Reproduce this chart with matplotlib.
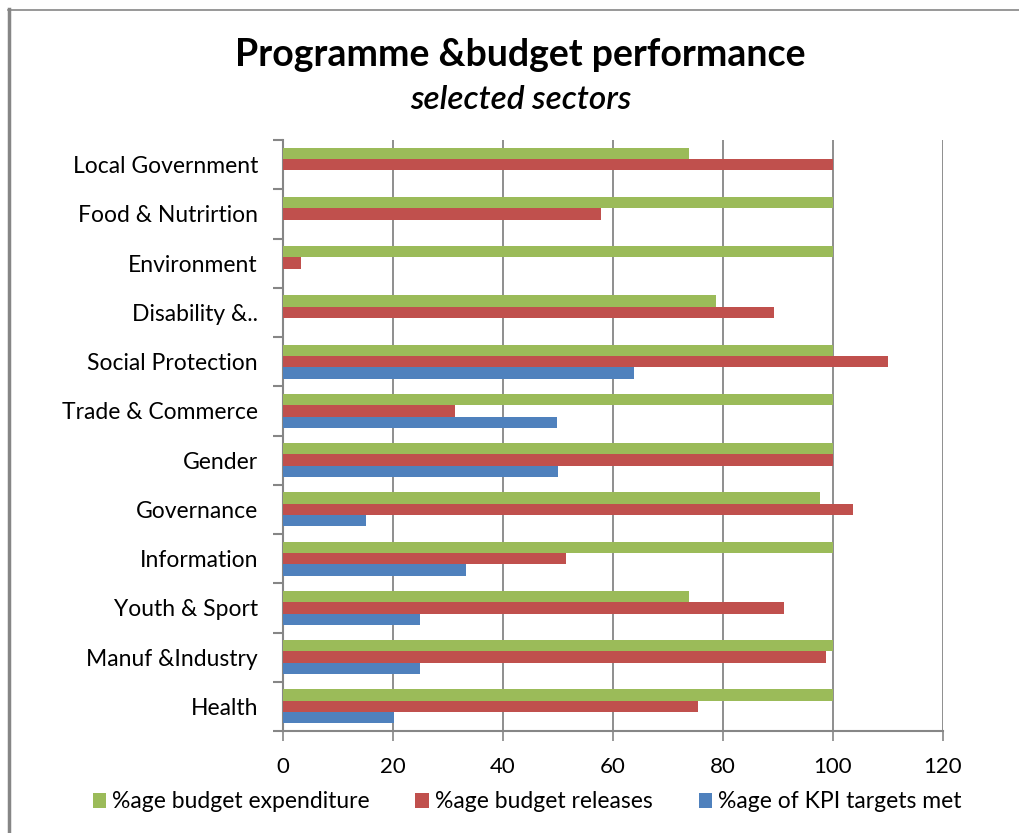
import matplotlib
matplotlib.use("Agg")
import matplotlib.pyplot as plt
import numpy as np
from matplotlib.lines import Line2D

categories = ["Health", "Manuf &Industry", "Youth & Sport", "Information", "Governance",
              "Gender", "Trade & Commerce", "Social Protection", "Disability &..",
              "Environment", "Food & Nutrirtion", "Local Government"]
expenditure = [100, 100, 73.9, 100, 97.6, 100, 100, 100, 78.7, 100, 100, 73.8]
releases = [75.5, 98.7, 91.1, 51.5, 103.7, 100, 31.2, 110, 89.2, 3.2, 57.9, 100]
kpi = [20.2, 24.9, 24.9, 33.3, 15.0, 50.0, 49.9, 63.9, np.nan, np.nan, np.nan, np.nan]
series_names = ["%age budget expenditure", "%age budget releases", "%age of KPI targets met"]
xticks = [0, 20, 40, 60, 80, 100, 120]

green = "#9BBB59"
red = "#C0504D"
blue = "#4F81BD"
gridc = "#868686"

plt.rcParams['font.family'] = ['Lato', 'DejaVu Sans']

fig = plt.figure(figsize=(10.2, 8.33), dpi=100)
ax = fig.add_axes([283/1020, 1-731/833, (943-283)/1020, (731-140)/833])

y = np.arange(len(categories))
h = 0.23
ax.barh(y + h, expenditure, height=h, color=green, label=series_names[0], zorder=3)
ax.barh(y, releases, height=h, color=red, label=series_names[1], zorder=3)
ax.barh(y - h, np.nan_to_num(kpi), height=h, color=blue, label=series_names[2], zorder=3)

ax.set_xlim(0, 120)
ax.set_ylim(-0.5, len(categories) - 0.5)
ax.set_xticks(xticks)
ax.set_xticklabels([str(t) for t in xticks], fontsize=16)
ax.set_yticks(y)
ax.set_yticklabels(categories, fontsize=16.5)
ax.tick_params(axis='y', length=0, pad=18)
ax.set_yticks(np.arange(-0.5, len(categories), 1), minor=True)
ax.tick_params(axis='y', which='minor', length=7, width=1.5, color=gridc, direction='out')
ax.tick_params(axis='x', length=7, width=1.2, color=gridc, direction='out', pad=12)
ax.xaxis.grid(True, color=gridc, linewidth=1.3, zorder=0)
ax.set_axisbelow(True)
for s in ['top', 'right']:
    ax.spines[s].set_visible(False)
for s in ['left', 'bottom']:
    ax.spines[s].set_color(gridc)
    ax.spines[s].set_linewidth(1.5)

fig.text(520/1020, 1-55/833, "Programme &budget performance", ha='center', va='center',
         fontsize=27, fontweight='bold')
fig.text(521/1020, 1-100/833, "selected sectors", ha='center', va='center',
         fontsize=24, fontstyle='italic', fontweight='semibold')

handles, labels = ax.get_legend_handles_labels()
leg = fig.legend(handles, labels, loc='center', bbox_to_anchor=(527/1020, 1-802/833), ncol=3,
                 frameon=False, fontsize=16.5, handlelength=0.6, handleheight=0.6,
                 handletextpad=0.25, columnspacing=2.0)

fig.add_artist(Line2D([9.5/1020, 9.5/1020], [0, 1-9/833], color=gridc, linewidth=2.5))
fig.add_artist(Line2D([8/1020, 1], [1-9.5/833, 1-9.5/833], color=gridc, linewidth=1.2))

fig.savefig("out.png", dpi=100)
